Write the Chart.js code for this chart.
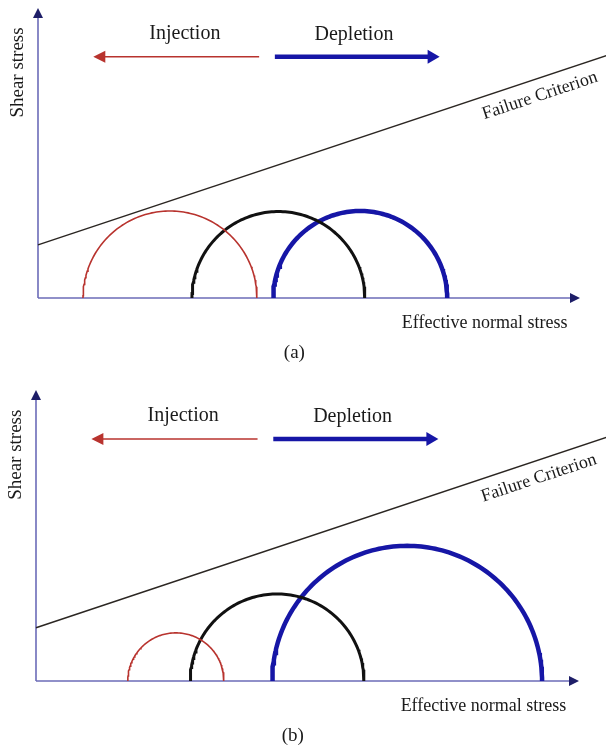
<!DOCTYPE html>
<html>
<head>
<meta charset="utf-8">
<script src="https://cdn.jsdelivr.net/npm/chart.js@4.4.1/dist/chart.umd.min.js"></script>
<style>
  html, body { margin: 0; padding: 0; background: #fff; }
  .panel { position: absolute; left: 0; width: 606px; height: 375px; }
</style>
</head>
<body>
<div class="panel" style="top:0"><canvas id="chartA" width="606" height="375"></canvas></div>
<div class="panel" style="top:375px"><canvas id="chartB" width="606" height="375"></canvas></div>
<script>
/* DATA - one entry per panel: (a), (b) */
const panelLabels = ['(a)', '(b)'];
const initialSigma3 = [28.4, 28.4];
const initialSigma1 = [60.3, 60.4];
const injectionSigma3 = [8.3, 16.9];
const injectionSigma1 = [40.4, 34.6];
const depletionSigma3 = [43.4, 43.5];
const depletionSigma1 = [75.5, 93.2];

/* failure criterion: tau = cohesion + slope * sigma */
const failureCohesion = 9.8;
const failureSlope = 0.333;
const failureRange = [0, 105];

const axisTitles = ['Effective normal stress', 'Shear stress'];
const arrowLabels = ['Injection', 'Depletion'];
const lineLabel = 'Failure Criterion';

/* layout of both panels (pixels) */
const panelPadding = [
  {left: 38, right: 26, top: 8, bottom: 77},
  {left: 36, right: 27, top: 15, bottom: 69},
];

const serif = '"Liberation Serif", "DejaVu Serif", serif';

/* upper half of a Mohr circle between sigma3 and sigma1 */
function mohrCircle(s3, s1){
  const c = (s1 + s3) / 2;
  const r = (s1 - s3) / 2;
  const pts = [];
  for(let i = 0; i <= 120; i++){
    const t = Math.PI - Math.PI * i / 120;
    pts.push({x: c + r * Math.cos(t), y: r * Math.sin(t)});
  }
  return pts;
}

function drawArrow(ctx, x1, y1, x2, y2, color, width, headLen, headHalf){
  const dir = Math.sign(x2 - x1);
  ctx.save();
  ctx.strokeStyle = color;
  ctx.fillStyle = color;
  ctx.lineWidth = width;
  ctx.beginPath();
  ctx.moveTo(x1, y1);
  ctx.lineTo(x2 - dir * (headLen - 1), y2);
  ctx.stroke();
  ctx.beginPath();
  ctx.moveTo(x2, y2);
  ctx.lineTo(x2 - dir * headLen, y2 - headHalf);
  ctx.lineTo(x2 - dir * headLen, y2 + headHalf);
  ctx.closePath();
  ctx.fill();
  ctx.restore();
}

/* axes with arrow heads, arrows and texts */
const sketchPlugin = {
  id: 'sketch',
  beforeDatasetsDraw: function(chart){
    const ctx = chart.ctx;
    const xs = chart.scales.x;
    const ys = chart.scales.y;
    const x0 = xs.getPixelForValue(0);
    const y0 = ys.getPixelForValue(0);
    const xEnd = xs.getPixelForValue(xs.max);
    const yTop = ys.getPixelForValue(ys.max);

    ctx.save();
    ctx.strokeStyle = '#6c6cb8';
    ctx.lineWidth = 1.6;
    ctx.beginPath();
    ctx.moveTo(x0, y0);
    ctx.lineTo(xEnd - 9, y0);
    ctx.moveTo(x0, y0);
    ctx.lineTo(x0, yTop + 9);
    ctx.stroke();

    ctx.fillStyle = '#1e1e68';
    ctx.beginPath();
    ctx.moveTo(xEnd, y0);
    ctx.lineTo(xEnd - 10, y0 - 5);
    ctx.lineTo(xEnd - 10, y0 + 5);
    ctx.closePath();
    ctx.fill();
    ctx.beginPath();
    ctx.moveTo(x0, yTop);
    ctx.lineTo(x0 - 5, yTop + 10);
    ctx.lineTo(x0 + 5, yTop + 10);
    ctx.closePath();
    ctx.fill();
    ctx.restore();
  },
  afterDatasetsDraw: function(chart){
    const ctx = chart.ctx;
    const xs = chart.scales.x;
    const ys = chart.scales.y;
    const px = function(v){ return xs.getPixelForValue(v); };
    const py = function(v){ return ys.getPixelForValue(v); };

    /* injection / depletion arrows */
    drawArrow(ctx, px(40.8), py(44.5), px(10.2), py(44.5), '#b8332e', 1.5, 12, 6);
    drawArrow(ctx, px(43.7), py(44.5), px(74.1), py(44.5), '#1616a6', 4.5, 12, 7);

    ctx.save();
    ctx.fillStyle = '#1a1a1a';
    ctx.textAlign = 'center';
    ctx.textBaseline = 'middle';

    ctx.font = '20px ' + serif;
    ctx.fillText(arrowLabels[0], px(27.1), py(48.8));
    ctx.fillText(arrowLabels[1], px(58.3), py(48.6));

    ctx.font = '18px ' + serif;
    ctx.fillText(axisTitles[0], px(82.4), py(-4.7));

    ctx.font = '19px ' + serif;
    ctx.fillText(chart.options.plugins.sketch.label, px(47.3), py(-10.2));

    /* y axis title */
    ctx.save();
    ctx.translate(px(-3.7), py(41.6));
    ctx.rotate(-Math.PI / 2);
    ctx.font = '19px ' + serif;
    ctx.fillText(axisTitles[1], 0, 0);
    ctx.restore();

    /* label along the failure line */
    const ang = Math.atan2(py(failureSlope * 10) - py(0), px(10) - px(0));
    ctx.save();
    ctx.translate(px(92.6), py(37.3));
    ctx.rotate(ang);
    ctx.font = '18px ' + serif;
    ctx.fillText(lineLabel, 0, 0);
    ctx.restore();

    ctx.restore();
  },
};

const app = {
  createChart: function(canvasId, i){
    const ctx = document.getElementById(canvasId).getContext('2d');

    const failureLine = failureRange.map(function(s){
      return {x: s, y: failureCohesion + failureSlope * s};
    });

    return new Chart(ctx, {
      type: 'scatter',
      data: {
        datasets: [{
          label: lineLabel,
          data: failureLine,
          borderColor: '#2b2622',
          borderWidth: 1.5,
          clip: false,
        },
        {
          label: 'Injection',
          data: mohrCircle(injectionSigma3[i], injectionSigma1[i]),
          borderColor: '#b8332e',
          borderWidth: 1.6,
        },
        {
          label: 'Initial',
          data: mohrCircle(initialSigma3[i], initialSigma1[i]),
          borderColor: '#111111',
          borderWidth: 3,
        },
        {
          label: 'Depletion',
          data: mohrCircle(depletionSigma3[i], depletionSigma1[i]),
          borderColor: '#1616a6',
          borderWidth: 4.5,
        }],
      },
      options: {
        responsive: false,
        animation: false,
        layout: {padding: panelPadding[i]},
        elements: {
          point: {radius: 0, hoverRadius: 0},
          line: {tension: 0, fill: false},
        },
        datasets: {scatter: {showLine: true}},
        scales: {
          x: {type: 'linear', min: 0, max: 100, display: false},
          y: {type: 'linear', min: 0, max: 53.5, display: false},
        },
        plugins: {
          legend: {display: false},
          tooltip: {enabled: false},
          sketch: {label: panelLabels[i]},
        },
      },
      plugins: [sketchPlugin],
    });
  },

  init: function(){
    const thisApp = this;
    thisApp.charts = [
      thisApp.createChart('chartA', 0),
      thisApp.createChart('chartB', 1),
    ];
  },
};

app.init();
</script>
</body>
</html>
